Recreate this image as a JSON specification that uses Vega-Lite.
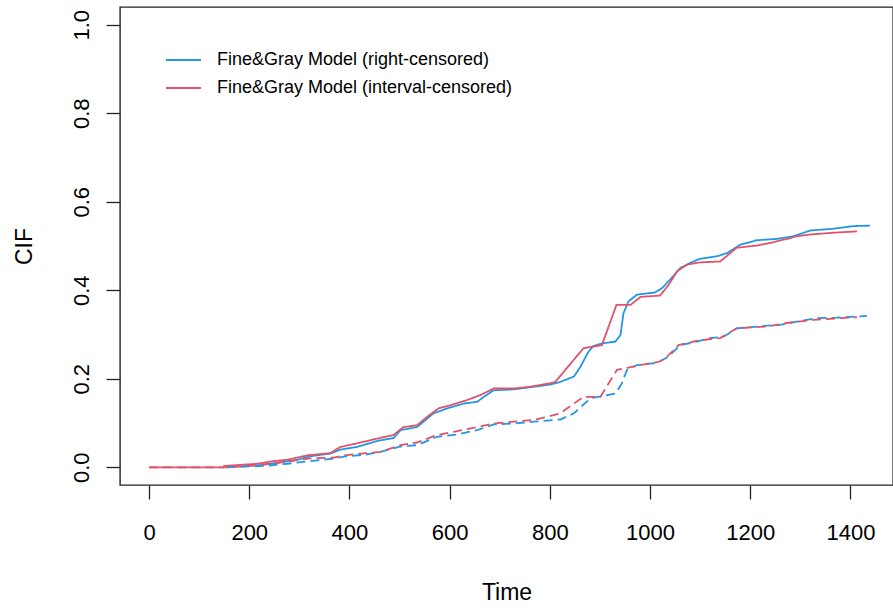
{
  "$schema": "https://vega.github.io/schema/vega-lite/v6.json",
  "autosize": "none",
  "padding": {"left": 120, "top": 7, "right": 0, "bottom": 123},
  "width": 773,
  "height": 478,
  "background": "white",
  "config": {
    "font": "Liberation Sans",
    "view": {"stroke": "#222", "strokeWidth": 1.4},
    "axis": {"grid": false, "domain": false, "tickColor": "#222", "tickWidth": 1.3, "tickSize": 14, "labelColor": "#000", "titleColor": "#000", "labelFont": "Liberation Sans", "titleFont": "Liberation Sans", "labelFontSize": 22, "titleFontSize": 23, "titleFontWeight": "normal"}
  },
  "datasets": {
    "cif": [
      {"t": 155, "cif": 0, "model": "Fine&Gray Model (right-censored)", "cause": "1"},
      {"t": 222, "cif": 0.005, "model": "Fine&Gray Model (right-censored)", "cause": "1"},
      {"t": 256, "cif": 0.010, "model": "Fine&Gray Model (right-censored)", "cause": "1"},
      {"t": 296, "cif": 0.017, "model": "Fine&Gray Model (right-censored)", "cause": "1"},
      {"t": 322, "cif": 0.025, "model": "Fine&Gray Model (right-censored)", "cause": "1"},
      {"t": 362, "cif": 0.031, "model": "Fine&Gray Model (right-censored)", "cause": "1"},
      {"t": 382, "cif": 0.040, "model": "Fine&Gray Model (right-censored)", "cause": "1"},
      {"t": 415, "cif": 0.046, "model": "Fine&Gray Model (right-censored)", "cause": "1"},
      {"t": 448, "cif": 0.057, "model": "Fine&Gray Model (right-censored)", "cause": "1"},
      {"t": 462, "cif": 0.061, "model": "Fine&Gray Model (right-censored)", "cause": "1"},
      {"t": 488, "cif": 0.066, "model": "Fine&Gray Model (right-censored)", "cause": "1"},
      {"t": 502, "cif": 0.084, "model": "Fine&Gray Model (right-censored)", "cause": "1"},
      {"t": 535, "cif": 0.091, "model": "Fine&Gray Model (right-censored)", "cause": "1"},
      {"t": 568, "cif": 0.122, "model": "Fine&Gray Model (right-censored)", "cause": "1"},
      {"t": 595, "cif": 0.133, "model": "Fine&Gray Model (right-censored)", "cause": "1"},
      {"t": 628, "cif": 0.144, "model": "Fine&Gray Model (right-censored)", "cause": "1"},
      {"t": 655, "cif": 0.148, "model": "Fine&Gray Model (right-censored)", "cause": "1"},
      {"t": 668, "cif": 0.159, "model": "Fine&Gray Model (right-censored)", "cause": "1"},
      {"t": 688, "cif": 0.174, "model": "Fine&Gray Model (right-censored)", "cause": "1"},
      {"t": 728, "cif": 0.176, "model": "Fine&Gray Model (right-censored)", "cause": "1"},
      {"t": 768, "cif": 0.182, "model": "Fine&Gray Model (right-censored)", "cause": "1"},
      {"t": 801, "cif": 0.187, "model": "Fine&Gray Model (right-censored)", "cause": "1"},
      {"t": 821, "cif": 0.193, "model": "Fine&Gray Model (right-censored)", "cause": "1"},
      {"t": 848, "cif": 0.205, "model": "Fine&Gray Model (right-censored)", "cause": "1"},
      {"t": 861, "cif": 0.227, "model": "Fine&Gray Model (right-censored)", "cause": "1"},
      {"t": 877, "cif": 0.261, "model": "Fine&Gray Model (right-censored)", "cause": "1"},
      {"t": 887, "cif": 0.274, "model": "Fine&Gray Model (right-censored)", "cause": "1"},
      {"t": 904, "cif": 0.280, "model": "Fine&Gray Model (right-censored)", "cause": "1"},
      {"t": 931, "cif": 0.284, "model": "Fine&Gray Model (right-censored)", "cause": "1"},
      {"t": 941, "cif": 0.299, "model": "Fine&Gray Model (right-censored)", "cause": "1"},
      {"t": 947, "cif": 0.348, "model": "Fine&Gray Model (right-censored)", "cause": "1"},
      {"t": 957, "cif": 0.375, "model": "Fine&Gray Model (right-censored)", "cause": "1"},
      {"t": 974, "cif": 0.390, "model": "Fine&Gray Model (right-censored)", "cause": "1"},
      {"t": 1010, "cif": 0.395, "model": "Fine&Gray Model (right-censored)", "cause": "1"},
      {"t": 1024, "cif": 0.405, "model": "Fine&Gray Model (right-censored)", "cause": "1"},
      {"t": 1040, "cif": 0.424, "model": "Fine&Gray Model (right-censored)", "cause": "1"},
      {"t": 1060, "cif": 0.450, "model": "Fine&Gray Model (right-censored)", "cause": "1"},
      {"t": 1074, "cif": 0.458, "model": "Fine&Gray Model (right-censored)", "cause": "1"},
      {"t": 1080, "cif": 0.462, "model": "Fine&Gray Model (right-censored)", "cause": "1"},
      {"t": 1100, "cif": 0.471, "model": "Fine&Gray Model (right-censored)", "cause": "1"},
      {"t": 1134, "cif": 0.477, "model": "Fine&Gray Model (right-censored)", "cause": "1"},
      {"t": 1154, "cif": 0.484, "model": "Fine&Gray Model (right-censored)", "cause": "1"},
      {"t": 1180, "cif": 0.503, "model": "Fine&Gray Model (right-censored)", "cause": "1"},
      {"t": 1213, "cif": 0.513, "model": "Fine&Gray Model (right-censored)", "cause": "1"},
      {"t": 1253, "cif": 0.516, "model": "Fine&Gray Model (right-censored)", "cause": "1"},
      {"t": 1286, "cif": 0.522, "model": "Fine&Gray Model (right-censored)", "cause": "1"},
      {"t": 1320, "cif": 0.535, "model": "Fine&Gray Model (right-censored)", "cause": "1"},
      {"t": 1366, "cif": 0.539, "model": "Fine&Gray Model (right-censored)", "cause": "1"},
      {"t": 1406, "cif": 0.545, "model": "Fine&Gray Model (right-censored)", "cause": "1"},
      {"t": 1439, "cif": 0.546, "model": "Fine&Gray Model (right-censored)", "cause": "1"},

      {"t": 0, "cif": 0, "model": "Fine&Gray Model (interval-censored)", "cause": "1"},
      {"t": 149, "cif": 0, "model": "Fine&Gray Model (interval-censored)", "cause": "1"},
      {"t": 150, "cif": 0.003, "model": "Fine&Gray Model (interval-censored)", "cause": "1"},
      {"t": 216, "cif": 0.008, "model": "Fine&Gray Model (interval-censored)", "cause": "1"},
      {"t": 249, "cif": 0.014, "model": "Fine&Gray Model (interval-censored)", "cause": "1"},
      {"t": 276, "cif": 0.017, "model": "Fine&Gray Model (interval-censored)", "cause": "1"},
      {"t": 316, "cif": 0.027, "model": "Fine&Gray Model (interval-censored)", "cause": "1"},
      {"t": 362, "cif": 0.032, "model": "Fine&Gray Model (interval-censored)", "cause": "1"},
      {"t": 382, "cif": 0.046, "model": "Fine&Gray Model (interval-censored)", "cause": "1"},
      {"t": 415, "cif": 0.054, "model": "Fine&Gray Model (interval-censored)", "cause": "1"},
      {"t": 448, "cif": 0.063, "model": "Fine&Gray Model (interval-censored)", "cause": "1"},
      {"t": 488, "cif": 0.073, "model": "Fine&Gray Model (interval-censored)", "cause": "1"},
      {"t": 508, "cif": 0.091, "model": "Fine&Gray Model (interval-censored)", "cause": "1"},
      {"t": 535, "cif": 0.095, "model": "Fine&Gray Model (interval-censored)", "cause": "1"},
      {"t": 555, "cif": 0.114, "model": "Fine&Gray Model (interval-censored)", "cause": "1"},
      {"t": 578, "cif": 0.133, "model": "Fine&Gray Model (interval-censored)", "cause": "1"},
      {"t": 601, "cif": 0.140, "model": "Fine&Gray Model (interval-censored)", "cause": "1"},
      {"t": 635, "cif": 0.152, "model": "Fine&Gray Model (interval-censored)", "cause": "1"},
      {"t": 661, "cif": 0.163, "model": "Fine&Gray Model (interval-censored)", "cause": "1"},
      {"t": 688, "cif": 0.178, "model": "Fine&Gray Model (interval-censored)", "cause": "1"},
      {"t": 728, "cif": 0.178, "model": "Fine&Gray Model (interval-censored)", "cause": "1"},
      {"t": 761, "cif": 0.182, "model": "Fine&Gray Model (interval-censored)", "cause": "1"},
      {"t": 801, "cif": 0.190, "model": "Fine&Gray Model (interval-censored)", "cause": "1"},
      {"t": 811, "cif": 0.193, "model": "Fine&Gray Model (interval-censored)", "cause": "1"},
      {"t": 867, "cif": 0.269, "model": "Fine&Gray Model (interval-censored)", "cause": "1"},
      {"t": 904, "cif": 0.276, "model": "Fine&Gray Model (interval-censored)", "cause": "1"},
      {"t": 933, "cif": 0.367, "model": "Fine&Gray Model (interval-censored)", "cause": "1"},
      {"t": 961, "cif": 0.367, "model": "Fine&Gray Model (interval-censored)", "cause": "1"},
      {"t": 981, "cif": 0.385, "model": "Fine&Gray Model (interval-censored)", "cause": "1"},
      {"t": 1020, "cif": 0.388, "model": "Fine&Gray Model (interval-censored)", "cause": "1"},
      {"t": 1037, "cif": 0.412, "model": "Fine&Gray Model (interval-censored)", "cause": "1"},
      {"t": 1054, "cif": 0.443, "model": "Fine&Gray Model (interval-censored)", "cause": "1"},
      {"t": 1074, "cif": 0.458, "model": "Fine&Gray Model (interval-censored)", "cause": "1"},
      {"t": 1100, "cif": 0.463, "model": "Fine&Gray Model (interval-censored)", "cause": "1"},
      {"t": 1140, "cif": 0.465, "model": "Fine&Gray Model (interval-censored)", "cause": "1"},
      {"t": 1173, "cif": 0.496, "model": "Fine&Gray Model (interval-censored)", "cause": "1"},
      {"t": 1213, "cif": 0.501, "model": "Fine&Gray Model (interval-censored)", "cause": "1"},
      {"t": 1240, "cif": 0.507, "model": "Fine&Gray Model (interval-censored)", "cause": "1"},
      {"t": 1273, "cif": 0.516, "model": "Fine&Gray Model (interval-censored)", "cause": "1"},
      {"t": 1293, "cif": 0.522, "model": "Fine&Gray Model (interval-censored)", "cause": "1"},
      {"t": 1320, "cif": 0.526, "model": "Fine&Gray Model (interval-censored)", "cause": "1"},
      {"t": 1366, "cif": 0.530, "model": "Fine&Gray Model (interval-censored)", "cause": "1"},
      {"t": 1413, "cif": 0.533, "model": "Fine&Gray Model (interval-censored)", "cause": "1"},

      {"t": 155, "cif": 0, "model": "Fine&Gray Model (right-censored)", "cause": "2"},
      {"t": 229, "cif": 0.003, "model": "Fine&Gray Model (right-censored)", "cause": "2"},
      {"t": 276, "cif": 0.008, "model": "Fine&Gray Model (right-censored)", "cause": "2"},
      {"t": 322, "cif": 0.014, "model": "Fine&Gray Model (right-censored)", "cause": "2"},
      {"t": 369, "cif": 0.020, "model": "Fine&Gray Model (right-censored)", "cause": "2"},
      {"t": 395, "cif": 0.025, "model": "Fine&Gray Model (right-censored)", "cause": "2"},
      {"t": 435, "cif": 0.029, "model": "Fine&Gray Model (right-censored)", "cause": "2"},
      {"t": 462, "cif": 0.035, "model": "Fine&Gray Model (right-censored)", "cause": "2"},
      {"t": 502, "cif": 0.047, "model": "Fine&Gray Model (right-censored)", "cause": "2"},
      {"t": 535, "cif": 0.050, "model": "Fine&Gray Model (right-censored)", "cause": "2"},
      {"t": 575, "cif": 0.069, "model": "Fine&Gray Model (right-censored)", "cause": "2"},
      {"t": 615, "cif": 0.074, "model": "Fine&Gray Model (right-censored)", "cause": "2"},
      {"t": 655, "cif": 0.084, "model": "Fine&Gray Model (right-censored)", "cause": "2"},
      {"t": 688, "cif": 0.097, "model": "Fine&Gray Model (right-censored)", "cause": "2"},
      {"t": 728, "cif": 0.099, "model": "Fine&Gray Model (right-censored)", "cause": "2"},
      {"t": 768, "cif": 0.103, "model": "Fine&Gray Model (right-censored)", "cause": "2"},
      {"t": 808, "cif": 0.107, "model": "Fine&Gray Model (right-censored)", "cause": "2"},
      {"t": 821, "cif": 0.108, "model": "Fine&Gray Model (right-censored)", "cause": "2"},
      {"t": 848, "cif": 0.122, "model": "Fine&Gray Model (right-censored)", "cause": "2"},
      {"t": 881, "cif": 0.156, "model": "Fine&Gray Model (right-censored)", "cause": "2"},
      {"t": 907, "cif": 0.161, "model": "Fine&Gray Model (right-censored)", "cause": "2"},
      {"t": 931, "cif": 0.167, "model": "Fine&Gray Model (right-censored)", "cause": "2"},
      {"t": 944, "cif": 0.190, "model": "Fine&Gray Model (right-censored)", "cause": "2"},
      {"t": 954, "cif": 0.220, "model": "Fine&Gray Model (right-censored)", "cause": "2"},
      {"t": 974, "cif": 0.231, "model": "Fine&Gray Model (right-censored)", "cause": "2"},
      {"t": 1014, "cif": 0.236, "model": "Fine&Gray Model (right-censored)", "cause": "2"},
      {"t": 1037, "cif": 0.250, "model": "Fine&Gray Model (right-censored)", "cause": "2"},
      {"t": 1060, "cif": 0.276, "model": "Fine&Gray Model (right-censored)", "cause": "2"},
      {"t": 1094, "cif": 0.284, "model": "Fine&Gray Model (right-censored)", "cause": "2"},
      {"t": 1120, "cif": 0.292, "model": "Fine&Gray Model (right-censored)", "cause": "2"},
      {"t": 1147, "cif": 0.295, "model": "Fine&Gray Model (right-censored)", "cause": "2"},
      {"t": 1173, "cif": 0.314, "model": "Fine&Gray Model (right-censored)", "cause": "2"},
      {"t": 1213, "cif": 0.318, "model": "Fine&Gray Model (right-censored)", "cause": "2"},
      {"t": 1260, "cif": 0.322, "model": "Fine&Gray Model (right-censored)", "cause": "2"},
      {"t": 1293, "cif": 0.329, "model": "Fine&Gray Model (right-censored)", "cause": "2"},
      {"t": 1333, "cif": 0.337, "model": "Fine&Gray Model (right-censored)", "cause": "2"},
      {"t": 1373, "cif": 0.338, "model": "Fine&Gray Model (right-censored)", "cause": "2"},
      {"t": 1433, "cif": 0.342, "model": "Fine&Gray Model (right-censored)", "cause": "2"},

      {"t": 0, "cif": 0, "model": "Fine&Gray Model (interval-censored)", "cause": "2"},
      {"t": 150, "cif": 0, "model": "Fine&Gray Model (interval-censored)", "cause": "2"},
      {"t": 216, "cif": 0.005, "model": "Fine&Gray Model (interval-censored)", "cause": "2"},
      {"t": 269, "cif": 0.012, "model": "Fine&Gray Model (interval-censored)", "cause": "2"},
      {"t": 322, "cif": 0.020, "model": "Fine&Gray Model (interval-censored)", "cause": "2"},
      {"t": 369, "cif": 0.022, "model": "Fine&Gray Model (interval-censored)", "cause": "2"},
      {"t": 389, "cif": 0.027, "model": "Fine&Gray Model (interval-censored)", "cause": "2"},
      {"t": 435, "cif": 0.032, "model": "Fine&Gray Model (interval-censored)", "cause": "2"},
      {"t": 462, "cif": 0.035, "model": "Fine&Gray Model (interval-censored)", "cause": "2"},
      {"t": 502, "cif": 0.050, "model": "Fine&Gray Model (interval-censored)", "cause": "2"},
      {"t": 535, "cif": 0.056, "model": "Fine&Gray Model (interval-censored)", "cause": "2"},
      {"t": 575, "cif": 0.073, "model": "Fine&Gray Model (interval-censored)", "cause": "2"},
      {"t": 608, "cif": 0.080, "model": "Fine&Gray Model (interval-censored)", "cause": "2"},
      {"t": 655, "cif": 0.091, "model": "Fine&Gray Model (interval-censored)", "cause": "2"},
      {"t": 688, "cif": 0.099, "model": "Fine&Gray Model (interval-censored)", "cause": "2"},
      {"t": 728, "cif": 0.103, "model": "Fine&Gray Model (interval-censored)", "cause": "2"},
      {"t": 768, "cif": 0.107, "model": "Fine&Gray Model (interval-censored)", "cause": "2"},
      {"t": 794, "cif": 0.114, "model": "Fine&Gray Model (interval-censored)", "cause": "2"},
      {"t": 821, "cif": 0.122, "model": "Fine&Gray Model (interval-censored)", "cause": "2"},
      {"t": 848, "cif": 0.144, "model": "Fine&Gray Model (interval-censored)", "cause": "2"},
      {"t": 867, "cif": 0.159, "model": "Fine&Gray Model (interval-censored)", "cause": "2"},
      {"t": 901, "cif": 0.159, "model": "Fine&Gray Model (interval-censored)", "cause": "2"},
      {"t": 911, "cif": 0.178, "model": "Fine&Gray Model (interval-censored)", "cause": "2"},
      {"t": 934, "cif": 0.220, "model": "Fine&Gray Model (interval-censored)", "cause": "2"},
      {"t": 951, "cif": 0.224, "model": "Fine&Gray Model (interval-censored)", "cause": "2"},
      {"t": 981, "cif": 0.231, "model": "Fine&Gray Model (interval-censored)", "cause": "2"},
      {"t": 1020, "cif": 0.239, "model": "Fine&Gray Model (interval-censored)", "cause": "2"},
      {"t": 1034, "cif": 0.250, "model": "Fine&Gray Model (interval-censored)", "cause": "2"},
      {"t": 1057, "cif": 0.276, "model": "Fine&Gray Model (interval-censored)", "cause": "2"},
      {"t": 1094, "cif": 0.286, "model": "Fine&Gray Model (interval-censored)", "cause": "2"},
      {"t": 1140, "cif": 0.292, "model": "Fine&Gray Model (interval-censored)", "cause": "2"},
      {"t": 1173, "cif": 0.314, "model": "Fine&Gray Model (interval-censored)", "cause": "2"},
      {"t": 1233, "cif": 0.318, "model": "Fine&Gray Model (interval-censored)", "cause": "2"},
      {"t": 1273, "cif": 0.326, "model": "Fine&Gray Model (interval-censored)", "cause": "2"},
      {"t": 1326, "cif": 0.333, "model": "Fine&Gray Model (interval-censored)", "cause": "2"},
      {"t": 1380, "cif": 0.337, "model": "Fine&Gray Model (interval-censored)", "cause": "2"},
      {"t": 1413, "cif": 0.339, "model": "Fine&Gray Model (interval-censored)", "cause": "2"}
    ]
  },
  "data": {"name": "cif"},
  "mark": {"type": "line", "strokeWidth": 1.8, "interpolate": "linear"},
  "encoding": {
    "x": {
      "field": "t", "type": "quantitative",
      "scale": {"domain": [-58, 1485], "nice": false, "zero": false},
      "axis": {"title": "Time", "values": [0, 200, 400, 600, 800, 1000, 1200, 1400], "format": "d", "labelPadding": 23, "labelBaseline": "top", "titleY": 114, "titleBaseline": "alphabetic"}
    },
    "y": {
      "field": "cif", "type": "quantitative",
      "scale": {"domain": [-0.04, 1.04], "nice": false, "zero": false},
      "axis": {"title": "CIF", "values": [0, 0.2, 0.4, 0.6, 0.8, 1.0], "format": ".1f", "labelAngle": 270, "labelAlign": "center", "labelBaseline": "alphabetic", "labelPadding": 18, "titleAngle": 270, "titleX": -89, "titleBaseline": "alphabetic", "titleAlign": "center"}
    },
    "color": {
      "field": "model", "type": "nominal",
      "scale": {"domain": ["Fine&Gray Model (right-censored)", "Fine&Gray Model (interval-censored)"], "range": ["#2297E6", "#DF536B"]},
      "legend": {"title": null, "orient": "none", "legendX": 45, "legendY": 34.5, "padding": 0, "symbolType": "stroke", "symbolSize": 1225, "symbolStrokeWidth": 1.8, "rowPadding": -8, "labelOffset": 15, "labelFontSize": 18, "labelFont": "Liberation Sans", "labelColor": "#000", "labelLimit": 0}
    },
    "strokeDash": {
      "field": "cause", "type": "nominal",
      "scale": {"domain": ["1", "2"], "range": [[1, 0], [9, 5]]},
      "legend": null
    }
  }
}
